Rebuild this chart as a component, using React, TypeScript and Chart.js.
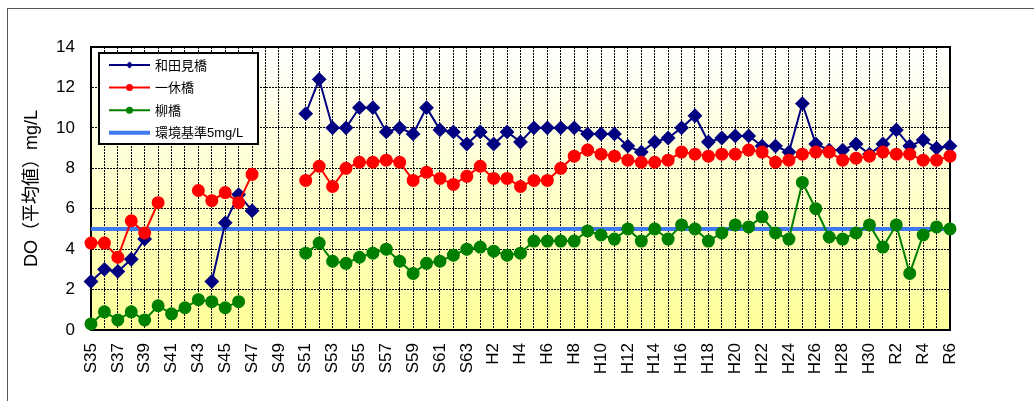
import React, { useEffect, useRef } from "react";
import { Chart, registerables } from "chart.js";

Chart.register(...registerables);

const yearLabels: string[] = [
  "S35", "S36", "S37", "S38", "S39", "S40", "S41", "S42", "S43", "S44",
  "S45", "S46", "S47", "S48", "S49", "S50", "S51", "S52", "S53", "S54",
  "S55", "S56", "S57", "S58", "S59", "S60", "S61", "S62", "S63",
  "H1", "H2", "H3", "H4", "H5", "H6", "H7", "H8", "H9", "H10",
  "H11", "H12", "H13", "H14", "H15", "H16", "H17", "H18", "H19", "H20",
  "H21", "H22", "H23", "H24", "H25", "H26", "H27", "H28", "H29", "H30",
  "R1", "R2", "R3", "R4", "R5", "R6",
];

const seriesNames = ["和田見橋", "一休橋", "柳橋", "環境基準5mg/L"];

const wadamiValues: (number | null)[] = [
  2.4, 3.0, 2.9, 3.5, 4.5, null, null, null, null, 2.4,
  5.3, 6.7, 5.9, null, null, null, 10.7, 12.4, 10.0, 10.0,
  11.0, 11.0, 9.8, 10.0, 9.7, 11.0, 9.9, 9.8, 9.2,
  9.8, 9.2, 9.8, 9.3, 10.0, 10.0, 10.0, 10.0, 9.7, 9.7,
  9.7, 9.1, 8.8, 9.3, 9.5, 10.0, 10.6, 9.3, 9.5, 9.6,
  9.6, 9.1, 9.1, 8.8, 11.2, 9.2, 8.9, 8.9, 9.2, 8.7,
  9.2, 9.9, 9.1, 9.4, 9.0, 9.1,
];

const ikkyuValues: (number | null)[] = [
  4.3, 4.3, 3.6, 5.4, 4.8, 6.3, null, null, 6.9, 6.4,
  6.8, 6.3, 7.7, null, null, null, 7.4, 8.1, 7.1, 8.0,
  8.3, 8.3, 8.4, 8.3, 7.4, 7.8, 7.5, 7.2, 7.6,
  8.1, 7.5, 7.5, 7.1, 7.4, 7.4, 8.0, 8.6, 8.9, 8.7,
  8.6, 8.4, 8.3, 8.3, 8.4, 8.8, 8.7, 8.6, 8.7, 8.7,
  8.9, 8.8, 8.3, 8.4, 8.7, 8.8, 8.8, 8.4, 8.5, 8.6,
  8.8, 8.7, 8.7, 8.4, 8.4, 8.6,
];

const yanagiValues: (number | null)[] = [
  0.3, 0.9, 0.5, 0.9, 0.5, 1.2, 0.8, 1.1, 1.5, 1.4,
  1.1, 1.4, null, null, null, null, 3.8, 4.3, 3.4, 3.3,
  3.6, 3.8, 4.0, 3.4, 2.8, 3.3, 3.4, 3.7, 4.0,
  4.1, 3.9, 3.7, 3.8, 4.4, 4.4, 4.4, 4.4, 4.9, 4.7,
  4.5, 5.0, 4.4, 5.0, 4.5, 5.2, 5.0, 4.4, 4.8, 5.2,
  5.1, 5.6, 4.8, 4.5, 7.3, 6.0, 4.6, 4.5, 4.8, 5.2,
  4.1, 5.2, 2.8, 4.7, 5.1, 5.0,
];

const standardValue = 5;

const yTicks = [0, 2, 4, 6, 8, 10, 12, 14];

const colors = {
  wadami: "#000080",
  ikkyu: "#FF0000",
  yanagi: "#008000",
  standard: "#3F78F0",
};

const FONT = "'Liberation Sans', 'Noto Sans CJK JP', Arial, sans-serif";

const bgPlugin = {
  id: "bgGradient",
  beforeDraw(chart: any) {
    const { ctx, chartArea } = chart;
    ctx.save();
    ctx.strokeStyle = "#555";
    ctx.lineWidth = 1;
    ctx.strokeRect(7.5, 8.5, 1200, 600);
    const g = ctx.createLinearGradient(0, chartArea.top, 0, chartArea.bottom);
    g.addColorStop(0, "#FFFFFF");
    g.addColorStop(1, "#FFFF99");
    ctx.fillStyle = g;
    ctx.fillRect(chartArea.left, chartArea.top, chartArea.right - chartArea.left, chartArea.bottom - chartArea.top);
    ctx.restore();
  },
  beforeDatasetsDraw(chart: any) {
    const { ctx, chartArea } = chart;
    ctx.save();
    ctx.strokeStyle = "#000";
    ctx.lineWidth = 2;
    ctx.strokeRect(chartArea.left, chartArea.top, chartArea.right - chartArea.left, chartArea.bottom - chartArea.top);
    ctx.restore();
  },
};

const legendPlugin = {
  id: "boxLegend",
  afterDatasetsDraw(chart: any) {
    const { ctx, chartArea } = chart;
    const x = chartArea.left + 8;
    const y = chartArea.top + 6;
    const w = 159;
    const h = 91;
    ctx.save();
    ctx.fillStyle = "#FFFFFF";
    ctx.fillRect(x, y, w, h);
    ctx.strokeStyle = "#000";
    ctx.lineWidth = 2;
    ctx.strokeRect(x, y, w, h);
    const items = [
      { name: seriesNames[0], color: colors.wadami, width: 2, marker: "diamond" },
      { name: seriesNames[1], color: colors.ikkyu, width: 2, marker: "circle" },
      { name: seriesNames[2], color: colors.yanagi, width: 2, marker: "circle" },
      { name: seriesNames[3], color: colors.standard, width: 4, marker: "none" },
    ];
    items.forEach((it, i) => {
      const cy = y + 12 + i * 22.6;
      const x1 = x + 10;
      const x2 = x + 51;
      ctx.strokeStyle = it.color;
      ctx.lineWidth = it.width;
      ctx.beginPath();
      ctx.moveTo(x1, cy);
      ctx.lineTo(x2, cy);
      ctx.stroke();
      const mx = (x1 + x2) / 2;
      ctx.fillStyle = it.color;
      if (it.marker === "circle") {
        ctx.beginPath();
        ctx.arc(mx, cy, 3.5, 0, Math.PI * 2);
        ctx.fill();
      } else if (it.marker === "diamond") {
        ctx.beginPath();
        ctx.moveTo(mx, cy - 3.5);
        ctx.lineTo(mx + 3.5, cy);
        ctx.lineTo(mx, cy + 3.5);
        ctx.lineTo(mx - 3.5, cy);
        ctx.closePath();
        ctx.fill();
      }
      ctx.fillStyle = "#000";
      ctx.font = `13px ${FONT}`;
      ctx.textBaseline = "middle";
      ctx.textAlign = "left";
      ctx.fillText(it.name, x + 56, cy + 1);
    });
    ctx.restore();
  },
};

export default function App() {
  const canvasRef = useRef<HTMLCanvasElement | null>(null);

  useEffect(() => {
    if (!canvasRef.current) return;
    const chart = new Chart(canvasRef.current, {
      type: "line",
      data: {
        labels: yearLabels,
        datasets: [
          {
            label: seriesNames[0],
            data: wadamiValues,
            borderColor: colors.wadami,
            backgroundColor: colors.wadami,
            borderWidth: 2,
            pointStyle: "rectRot",
            pointRadius: 6,
            pointHoverRadius: 6,
            spanGaps: false,
            clip: false,
            order: 3,
          },
          {
            label: seriesNames[1],
            data: ikkyuValues,
            borderColor: colors.ikkyu,
            backgroundColor: colors.ikkyu,
            borderWidth: 2,
            pointStyle: "circle",
            pointRadius: 5.5,
            pointHoverRadius: 5.5,
            spanGaps: false,
            clip: false,
            order: 2,
          },
          {
            label: seriesNames[2],
            data: yanagiValues,
            borderColor: colors.yanagi,
            backgroundColor: colors.yanagi,
            borderWidth: 2,
            pointStyle: "circle",
            pointRadius: 5.5,
            pointHoverRadius: 5.5,
            spanGaps: false,
            clip: false,
            order: 1,
          },
          {
            label: seriesNames[3],
            data: [
              { x: yearLabels[0], y: standardValue },
              { x: yearLabels[yearLabels.length - 1], y: standardValue },
            ] as any,
            borderColor: colors.standard,
            backgroundColor: colors.standard,
            borderWidth: 4,
            pointRadius: 0,
            clip: false,
            order: 4,
          },
        ],
      },
      options: {
        animation: false,
        responsive: false,
        maintainAspectRatio: false,
        layout: { padding: { left: 0, right: 84, top: 47, bottom: 0 } },
        plugins: {
          legend: { display: false },
          tooltip: { enabled: false },
          title: { display: false },
        },
        scales: {
          x: {
            type: "category",
            offset: false,
            afterFit: (scale: any) => {
              scale.height = 71;
            },
            grid: {
              color: "#000",
              lineWidth: 1,
              drawTicks: false,
            },
            border: { display: true, color: "#000", width: 2, dash: [2, 1] },
            ticks: {
              autoSkip: false,
              maxRotation: 90,
              minRotation: 90,
              padding: 13,
              color: "#000",
              font: { family: FONT, size: 17 },
              callback: (_v: any, i: number) => (i % 2 === 0 ? yearLabels[i] : ""),
            },
          },
          y: {
            min: 0,
            max: 14,
            afterFit: (scale: any) => {
              scale.width = 91;
            },
            afterBuildTicks: (scale: any) => {
              scale.ticks = yTicks.map((v) => ({ value: v }));
            },
            grid: {
              color: "#000",
              lineWidth: 1,
              drawTicks: false,
            },
            border: { display: true, color: "#000", width: 2, dash: [2, 1] },
            ticks: {
              padding: 16,
              color: "#000",
              font: { family: FONT, size: 17 },
            },
            title: {
              display: true,
              text: "DO（平均値）mg/L",
              color: "#000",
              font: { family: FONT, size: 18 },
              padding: { top: 21, bottom: 0 },
            },
          },
        },
      },
      plugins: [bgPlugin, legendPlugin],
    });
    return () => chart.destroy();
  }, []);

  return (
    <div style={{ position: "absolute", left: 0, top: 0, width: 1034, height: 401, background: "#fff" }}>
      <canvas ref={canvasRef} width={1034} height={401} style={{ display: "block" }} />
    </div>
  );
}
